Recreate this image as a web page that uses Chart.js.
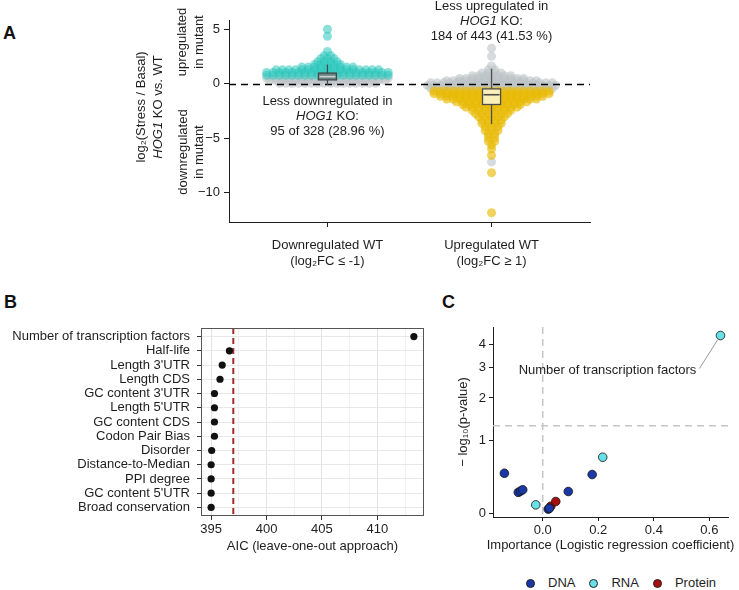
<!DOCTYPE html>
<html>
<head>
<meta charset="utf-8">
<script src="https://cdn.jsdelivr.net/npm/chart.js@4.4.1/dist/chart.umd.min.js"></script>
<style>
  html, body { margin: 0; padding: 0; background: #fff; overflow: hidden; }
  body { width: 739px; height: 590px; position: relative; font-family: "Liberation Sans", Arial, Helvetica, sans-serif; color: #1e1e1e; }
  canvas { position: absolute; }
  .tag { position: absolute; font-weight: bold; font-size: 18px; line-height: 18px; color: #111; }
  #legend-c { position: absolute; left: 526px; top: 575px; display: flex; align-items: center; font-size: 13px; line-height: 16px; }
  #legend-c .dot { display: inline-block; width: 9px; height: 9px; border-radius: 50%; border: 0.8px solid #222; box-sizing: border-box; margin-right: 13px; }
  #legend-c .txt { margin-right: 14px; }
</style>
</head>
<body>
<div class="tag" style="left:3px;top:24px">A</div>
<div class="tag" style="left:4px;top:293px">B</div>
<div class="tag" style="left:442px;top:293px">C</div>
<canvas id="chart-a" width="739" height="290" style="left:0;top:0"></canvas>
<canvas id="chart-b" width="440" height="280" style="left:0;top:290px"></canvas>
<canvas id="chart-c" width="299" height="280" style="left:440px;top:290px"></canvas>
<div id="legend-c"></div>
<script>
const FONT = '"Liberation Sans", Arial, Helvetica, sans-serif';
const INK = "#1e1e1e";

// ---------- panel A ----------
const groupCenters = [1, 2];
const groupLabels = [
  ["Downregulated WT", "(log₂FC ≤ -1)"],
  ["Upregulated WT", "(log₂FC ≥ 1)"],
];
const foldTicks = [-10, -5, 0, 5];

// [log2 ratio, number of genes drawn at that level]
const downWtGrey = [[0.05, 16], [0.3, 19], [0.55, 20]];
const downWtTeal = [
  [0.8, 20], [1.05, 20], [1.3, 17], [1.55, 9], [1.8, 5], [2.05, 4],
  [2.35, 3], [2.6, 2], [3.0, 1], [4.4, 1], [5.05, 1],
];
const upWtGrey = [
  [3.3, 1], [2.55, 1], [1.65, 1], [1.3, 2], [1.0, 4], [0.75, 7], [0.5, 11],
  [0.3, 15], [0.1, 20], [-0.15, 21], [-0.4, 20], [-7.2, 1],
];
const upWtYellow = [
  [-0.65, 19], [-0.9, 19], [-1.15, 17], [-1.4, 15], [-1.65, 12], [-1.9, 10],
  [-2.15, 9], [-2.45, 7], [-2.75, 6], [-3.05, 5], [-3.35, 4], [-3.65, 4],
  [-3.95, 3], [-4.3, 3], [-4.6, 2], [-4.95, 2], [-5.3, 2], [-5.65, 1],
  [-6.0, 1], [-6.6, 1], [-8.2, 1], [-11.9, 1],
];

// box plot stats per group
const boxLower = [0.37, -1.9];
const boxMedian = [0.67, -1.0];
const boxUpper = [1.0, -0.46];
const whiskerLow = [-0.1, -3.7];
const whiskerHigh = [1.8, 1.4];

const annotations = [
  [[["Less downregulated in", false]], [["HOG1", true], [" KO:", false]], [["95 of 328 (28.96 %)", false]]],
  [[["Less upregulated in", false]], [["HOG1", true], [" KO:", false]], [["184 of 443 (41.53 %)", false]]],
];

// ---------- panel B ----------
const features = [
  "Number of transcription factors", "Half-life", "Length 3'UTR", "Length CDS",
  "GC content 3'UTR", "Length 5'UTR", "GC content CDS", "Codon Pair Bias",
  "Disorder", "Distance-to-Median", "PPI degree", "GC content 5'UTR", "Broad conservation",
];
const aicValues = [413.3, 396.65, 396.0, 395.8, 395.3, 395.3, 395.3, 395.3, 395.05, 395.0, 395.0, 395.0, 395.0];
const aicFullModel = 397.0;
const aicMajorTicks = [395, 400, 405, 410];
const aicMinorTicks = [397.5, 402.5, 407.5, 412.5];

// ---------- panel C ----------
const featureGroups = ["DNA", "RNA", "Protein"];
const groupColors = ["rgb(26,56,166)", "rgb(104,224,232)", "rgb(168,14,14)"];
const dnaCoef = [-0.138, -0.088, -0.080, -0.072, 0.020, 0.024, 0.092, 0.178];
const dnaNegLogP = [0.464, 0.22, 0.235, 0.25, 0.04, 0.049, 0.23, 0.446];
const rnaNames = ["Number of transcription factors", "Half-life", "Distance-to-Median"];
const rnaCoef = [0.640, 0.216, -0.025];
const rnaNegLogP = [4.44, 0.705, 0.083];
const proteinCoef = [0.029, 0.047];
const proteinNegLogP = [0.069, 0.118];
const coefTicks = [0, 0.2, 0.4, 0.6];
const pTicks = [0, 1, 2, 3, 4];
const pThreshold = 0.05;

Chart.defaults.font.family = FONT;
Chart.defaults.font.size = 13;
Chart.defaults.color = INK;
Chart.defaults.animation = false;
Chart.defaults.responsive = false;
Chart.defaults.events = [];
Chart.defaults.plugins.legend.display = false;
Chart.defaults.plugins.tooltip.enabled = false;

function fixedTicks(values) {
  return (scale) => {
    scale.ticks = values.map((value) => ({ value }));
  };
}

const SWARM_STEP = 0.039;
function swarm(levels, center) {
  const pts = [];
  for (const [y, n] of levels) {
    for (let i = 0; i < n; i++) {
      pts.push({ x: center + (i - (n - 1) / 2) * SWARM_STEP, y });
    }
  }
  return pts;
}

function drawRuns(ctx, runs, x, y) {
  const widths = runs.map(([t, it]) => {
    ctx.font = (it ? "italic " : "") + "13px " + FONT;
    return ctx.measureText(t).width;
  });
  let cx = x - widths.reduce((a, b) => a + b, 0) / 2;
  ctx.textAlign = "left";
  ctx.textBaseline = "middle";
  runs.forEach(([t, it], i) => {
    ctx.font = (it ? "italic " : "") + "13px " + FONT;
    ctx.fillText(t, cx, y);
    cx += widths[i];
  });
}

function rotatedRuns(ctx, runs, x, y) {
  ctx.save();
  ctx.translate(x, y);
  ctx.rotate(-Math.PI / 2);
  drawRuns(ctx, runs, 0, 0);
  ctx.restore();
}

const boxStyle = [
  { fill: "#6f8383", edge: "#3f4a4a", median: "#c9d4d4" },
  { fill: "rgba(255,253,228,0.8)", edge: "#4d4d4d", median: "#4d4d4d" },
];
const BOX_W = 0.11;

const panelAPlugin = {
  id: "panelA",
  afterDatasetsDraw(chart) {
    const { ctx, chartArea: a, scales: { x, y } } = chart;
    ctx.save();
    const y0 = Math.round(y.getPixelForValue(0)) + 0.5;
    ctx.setLineDash([7, 5]);
    ctx.lineWidth = 1.5;
    ctx.strokeStyle = "#000";
    ctx.beginPath();
    ctx.moveTo(a.left, y0);
    ctx.lineTo(a.right, y0);
    ctx.stroke();
    ctx.setLineDash([]);
    groupCenters.forEach((c, i) => {
      const st = boxStyle[i];
      const xc = x.getPixelForValue(c);
      const xl = x.getPixelForValue(c - BOX_W / 2);
      const xr = x.getPixelForValue(c + BOX_W / 2);
      const yTop = y.getPixelForValue(boxUpper[i]);
      const yBot = y.getPixelForValue(boxLower[i]);
      ctx.strokeStyle = st.edge;
      ctx.lineWidth = 1.3;
      ctx.beginPath();
      ctx.moveTo(xc, y.getPixelForValue(whiskerHigh[i]));
      ctx.lineTo(xc, yTop);
      ctx.moveTo(xc, yBot);
      ctx.lineTo(xc, y.getPixelForValue(whiskerLow[i]));
      ctx.stroke();
      ctx.fillStyle = st.fill;
      ctx.fillRect(xl, yTop, xr - xl, yBot - yTop);
      ctx.strokeRect(xl, yTop, xr - xl, yBot - yTop);
      const ym = y.getPixelForValue(boxMedian[i]);
      ctx.strokeStyle = st.median;
      ctx.lineWidth = 1.6;
      ctx.beginPath();
      ctx.moveTo(xl + 1, ym);
      ctx.lineTo(xr - 1, ym);
      ctx.stroke();
    });
    ctx.restore();
  },
  afterDraw(chart) {
    const { ctx, scales: { x, y } } = chart;
    ctx.save();
    ctx.fillStyle = INK;
    const y0 = y.getPixelForValue(0);
    const firstLine = [17.8, -77.2];
    annotations.forEach((lines, i) => {
      const xc = x.getPixelForValue(groupCenters[i]);
      lines.forEach((runs, j) => drawRuns(ctx, runs, xc, y0 + firstLine[i] + j * 15));
    });
    rotatedRuns(ctx, [["log₂(Stress / Basal)", false]], 141, 107);
    rotatedRuns(ctx, [["HOG1", true], [" KO vs. WT", false]], 158, 107);
    rotatedRuns(ctx, [["upregulated", false]], 182, 42);
    rotatedRuns(ctx, [["in mutant", false]], 199, 42);
    rotatedRuns(ctx, [["downregulated", false]], 183, 152);
    rotatedRuns(ctx, [["in mutant", false]], 199, 152);
    ctx.restore();
  },
};

const axisLine = { color: INK, width: 1 };

new Chart(document.getElementById("chart-a"), {
  type: "scatter",
  data: {
    datasets: [
      { data: swarm(downWtGrey, 1), backgroundColor: "rgba(188,195,199,0.6)", order: 2 },
      { data: swarm(downWtTeal, 1), backgroundColor: "rgba(44,198,188,0.55)", order: 1 },
      { data: swarm(upWtGrey, 2), backgroundColor: "rgba(188,195,199,0.6)", order: 2 },
      { data: swarm(upWtYellow, 2), backgroundColor: "rgba(232,186,4,0.65)", order: 1 },
    ],
  },
  options: {
    layout: { padding: { left: 0, top: 20, right: 149, bottom: 0 } },
    elements: { point: { radius: 4.5, borderWidth: 0, hoverRadius: 4.5 } },
    scales: {
      x: {
        type: "linear", min: 0.4, max: 2.6,
        afterBuildTicks: fixedTicks(groupCenters),
        afterFit: (s) => { s.height = 68; },
        ticks: { autoSkip: false, maxRotation: 0, padding: 11, callback: (v) => groupLabels[groupCenters.indexOf(v)] },
        grid: { drawOnChartArea: false, color: INK, tickLength: 5 },
        border: axisLine,
      },
      y: {
        type: "linear", min: -12.75, max: 5.9,
        afterBuildTicks: fixedTicks(foldTicks),
        afterFit: (s) => { s.width = 229; },
        ticks: { autoSkip: false, padding: 4, callback: (v) => (v < 0 ? "−" + Math.abs(v) : String(v)) },
        grid: { drawOnChartArea: false, color: INK, tickLength: 5 },
        border: axisLine,
      },
    },
  },
  plugins: [panelAPlugin],
});

// ---------- chart B ----------
const panelBPlugin = {
  id: "panelB",
  beforeDatasetsDraw(chart) {
    const { ctx, chartArea: a, scales: { x } } = chart;
    const xp = x.getPixelForValue(aicFullModel);
    ctx.save();
    ctx.strokeStyle = "#a52a2a";
    ctx.lineWidth = 2;
    ctx.setLineDash([6, 4]);
    ctx.beginPath();
    ctx.moveTo(xp, a.top);
    ctx.lineTo(xp, a.bottom);
    ctx.stroke();
    ctx.restore();
  },
  afterDraw(chart) {
    const { ctx, chartArea: a } = chart;
    ctx.save();
    ctx.strokeStyle = "#555";
    ctx.lineWidth = 1;
    ctx.strokeRect(a.left + 0.5, a.top + 0.5, a.right - a.left - 1, a.bottom - a.top - 1);
    ctx.restore();
  },
};

const isMajorAic = (v) => aicMajorTicks.includes(v);

new Chart(document.getElementById("chart-b"), {
  type: "scatter",
  data: {
    datasets: [{
      data: aicValues.map((v, i) => ({ x: v, y: i })),
      backgroundColor: "#111", pointRadius: 3.6, borderWidth: 0, hoverRadius: 3.6,
    }],
  },
  options: {
    layout: { padding: { left: 0, top: 38, right: 16, bottom: 12 } },
    scales: {
      x: {
        type: "linear", min: 394.085, max: 414.215,
        afterBuildTicks: fixedTicks([...aicMajorTicks, ...aicMinorTicks].sort((a, b) => a - b)),
        afterFit: (s) => { s.height = 42; },
        ticks: { autoSkip: false, maxRotation: 0, padding: 2, callback: (v) => (isMajorAic(v) ? String(v) : "") },
        grid: {
          color: (c) => (c.tick && isMajorAic(c.tick.value) ? "#e4e4e4" : "#f0f0f0"),
          tickColor: (c) => (c.tick && isMajorAic(c.tick.value) ? "#333" : "rgba(0,0,0,0)"),
          tickLength: 4,
        },
        border: { display: false },
        title: { display: true, text: "AIC (leave-one-out approach)", padding: { top: 4, bottom: 4 } },
      },
      y: {
        type: "linear", reverse: true, min: -0.6, max: 12.6,
        afterBuildTicks: fixedTicks(features.map((_, i) => i)),
        afterFit: (s) => { s.width = 201; },
        ticks: { autoSkip: false, padding: 7, callback: (v) => features[v] },
        grid: { color: "#e8e8e8", tickColor: "#333", tickLength: 4 },
        border: { display: false },
      },
    },
  },
  plugins: [panelBPlugin],
});

// ---------- chart C ----------
const panelCPlugin = {
  id: "panelC",
  beforeDatasetsDraw(chart) {
    const { ctx, chartArea: a, scales: { x, y } } = chart;
    const yp = y.getPixelForValue(Math.log1p(-Math.log10(pThreshold)));
    const xp = x.getPixelForValue(0);
    ctx.save();
    ctx.strokeStyle = "#c6c6c6";
    ctx.lineWidth = 1.5;
    ctx.setLineDash([7, 5]);
    ctx.beginPath();
    ctx.moveTo(a.left, yp);
    ctx.lineTo(a.right, yp);
    ctx.moveTo(xp, a.top);
    ctx.lineTo(xp, a.bottom);
    ctx.stroke();
    ctx.restore();
  },
  afterDatasetsDraw(chart) {
    const { ctx } = chart;
    const label = "Number of transcription factors";
    const pt = chart.getDatasetMeta(1).data[rnaNames.indexOf(label)];
    const tx = pt.x - 113;
    const ty = pt.y + 35;
    ctx.save();
    ctx.font = "13px " + FONT;
    ctx.fillStyle = INK;
    ctx.textAlign = "center";
    ctx.textBaseline = "middle";
    ctx.fillText(label, tx, ty);
    const w = ctx.measureText(label).width;
    const sx = tx + w / 2 + 3;
    const sy = ty - 2;
    const ang = Math.atan2(pt.y - sy, pt.x - sx);
    ctx.strokeStyle = "#9a9a9a";
    ctx.lineWidth = 1;
    ctx.beginPath();
    ctx.moveTo(sx, sy);
    ctx.lineTo(pt.x - Math.cos(ang) * 5, pt.y - Math.sin(ang) * 5);
    ctx.stroke();
    ctx.restore();
  },
  afterDraw(chart) {
    const { ctx, chartArea: a } = chart;
    ctx.save();
    ctx.font = "13px " + FONT;
    ctx.fillStyle = INK;
    ctx.textAlign = "center";
    ctx.textBaseline = "middle";
    ctx.fillText("Importance (Logistic regression coefficient)", (a.left + a.right) / 2, 255);
    ctx.restore();
  },
};

const pointStyle = (color) => ({
  backgroundColor: color, borderColor: "#111", borderWidth: 0.8, pointRadius: 4.3, hoverRadius: 4.3,
});

new Chart(document.getElementById("chart-c"), {
  type: "scatter",
  data: {
    datasets: [
      { label: featureGroups[0], data: dnaCoef.map((v, i) => ({ x: v, y: Math.log1p(dnaNegLogP[i]) })), ...pointStyle(groupColors[0]) },
      { label: featureGroups[1], data: rnaCoef.map((v, i) => ({ x: v, y: Math.log1p(rnaNegLogP[i]) })), ...pointStyle(groupColors[1]) },
      { label: featureGroups[2], data: proteinCoef.map((v, i) => ({ x: v, y: Math.log1p(proteinNegLogP[i]) })), ...pointStyle(groupColors[2]) },
    ],
  },
  options: {
    layout: { padding: { left: 12, top: 37, right: 11, bottom: 11 } },
    scales: {
      x: {
        type: "linear", min: -0.179, max: 0.667,
        afterBuildTicks: fixedTicks(coefTicks),
        afterFit: (s) => { s.height = 42; },
        ticks: { autoSkip: false, maxRotation: 0, padding: 2, callback: (v) => v.toFixed(1) },
        grid: { drawOnChartArea: false, color: INK, tickLength: 4 },
        border: axisLine,
      },
      y: {
        type: "linear", min: -0.036, max: 1.775,
        afterBuildTicks: fixedTicks(pTicks.map((v) => Math.log1p(v))),
        afterFit: (s) => { s.width = 41; },
        ticks: { autoSkip: false, padding: 3, callback: (v, i) => String(pTicks[i]) },
        grid: { drawOnChartArea: false, color: INK, tickLength: 4 },
        border: axisLine,
        title: { display: true, text: "− log₁₀(p-value)", padding: { top: 4, bottom: 4 } },
      },
    },
  },
  plugins: [panelCPlugin],
});

const legend = document.getElementById("legend-c");
featureGroups.forEach((name, i) => {
  const dot = document.createElement("span");
  dot.className = "dot";
  dot.style.background = groupColors[i];
  const txt = document.createElement("span");
  txt.className = "txt";
  txt.textContent = name;
  legend.appendChild(dot);
  legend.appendChild(txt);
});
</script>
</body>
</html>
